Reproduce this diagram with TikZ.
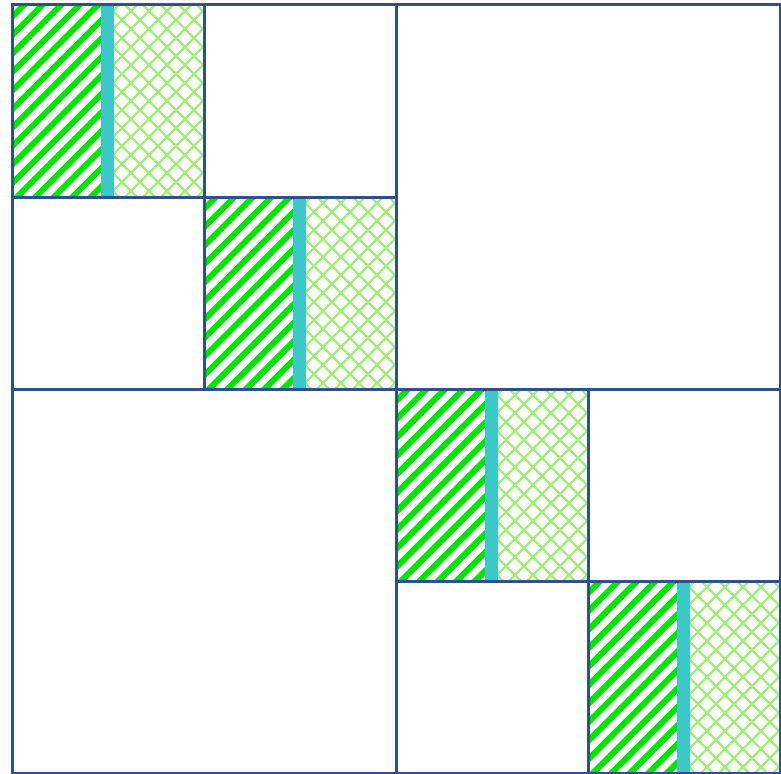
\documentclass[tikz,border=0pt]{standalone}
\definecolor{stripecol}{RGB}{0,230,0}
\definecolor{crosscol}{RGB}{160,240,120}
\definecolor{barcol}{RGB}{60,200,200}
\definecolor{gridcol}{RGB}{46,80,140}
\tikzset{
  stripeline/.style={draw=stripecol,line width=6pt},
  crossline/.style={draw=crosscol,line width=2.2pt},
  barfill/.style={fill=barcol,draw=none},
  gridline/.style={draw=gridcol,line width=3pt}
}
\begin{document}
\begin{tikzpicture}[x=1pt,y=-1pt]
\useasboundingbox (0,0) rectangle (781,773);
\foreach \i in {0,...,3}{
  \pgfmathsetmacro\xo{12+192*\i}
  \pgfmathsetmacro\yo{5+192*\i}
  \begin{scope}
    \clip (\xo,\yo) rectangle ++(89,192);
    \foreach \k in {-11,...,6}{
      \draw[stripeline] (\xo+\k*18.5,\yo+197) -- ++(202,-202);
    }
  \end{scope}
  \begin{scope}
    \clip (\xo+102,\yo) rectangle ++(90,192);
    \foreach \k in {-6,...,17}{
      \draw[crossline] (\xo+\k*18,\yo+197) -- ++(202,-202);
      \draw[crossline] (\xo+\k*18,\yo-5) -- ++(202,202);
    }
  \end{scope}
  \fill[barfill] (\xo+89,\yo) rectangle ++(13,192);
  \draw[gridline] (\xo,\yo) rectangle ++(192,192);
}
\draw[gridline] (12,5) rectangle (780,773);
\draw[gridline] (396,5) -- (396,773);
\draw[gridline] (12,389) -- (780,389);
\end{tikzpicture}
\end{document}
